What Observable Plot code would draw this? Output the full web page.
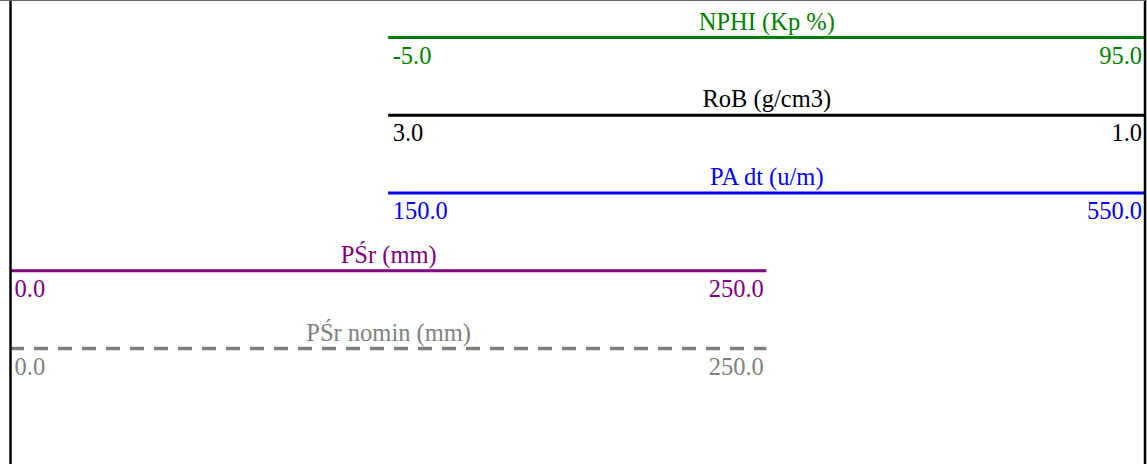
<!DOCTYPE html>
<html>
<head>
<meta charset="utf-8">
<script src="https://cdn.jsdelivr.net/npm/d3@7"></script>
<script src="https://cdn.jsdelivr.net/npm/@observablehq/plot@0.6"></script>
<style>
  html, body { margin: 0; padding: 0; background: #fff; overflow: hidden; }
  #chart { border-top: 1px solid #666; width: 1147px; height: 463px; }
  #chart svg { display: block; }
</style>
</head>
<body>
<div id="chart"></div>
<script>
// Curve header data (well-log style)
const curveNames = ["NPHI", "RoB", "PA dt", "PŚr", "PŚr nomin"];
const curveUnits = ["Kp %", "g/cm3", "u/m", "mm", "mm"];
const leftValues = [-5, 3, 150, 0, 0];
const rightValues = [95, 1, 550, 250, 250];
const trackStart = [1, 1, 1, 0, 0];   // track offsets (tracks span 2 units)
const curveColors = ["#008000", "#000000", "#0000ff", "#800080", "#808080"];
const dashedCurves = ["PŚr nomin"];
const trackBorders = [0, 3];

const rows = curveNames.map((name, i) => ({
  name,
  title: `${name} (${curveUnits[i]})`,
  row: i,
  x1: trackStart[i],
  x2: trackStart[i] + 2,
  lo: leftValues[i].toFixed(1),
  hi: rightValues[i].toFixed(1),
  dashed: dashedCurves.includes(name)
}));

const font = "'Liberation Serif', 'Times New Roman', serif";

const chart = Plot.plot({
  width: 1147,
  height: 463,
  margin: 0,
  style: { fontFamily: font, fontSize: "25px", background: "white" },
  x: { domain: [0, 3], range: [10, 1144.5], axis: null },
  y: { domain: [0, 4], range: [36, 347], axis: null },
  color: { domain: curveNames, range: curveColors },
  marks: [
    Plot.ruleY(rows.filter(d => !d.dashed), { y: "row", x1: "x1", x2: "x2", stroke: "name", strokeWidth: 3 }),
    Plot.ruleY(rows.filter(d => d.dashed), { y: "row", x1: "x1", x2: "x2", stroke: "name", strokeWidth: 3.5, strokeDasharray: "14,10" }),
    Plot.text(rows, { x: d => (d.x1 + d.x2) / 2, y: "row", text: "title", fill: "name", lineAnchor: "bottom", dy: -8, fontSize: 24.5 }),
    Plot.text(rows, { x: "x1", y: "row", text: "lo", fill: "name", textAnchor: "start", lineAnchor: "bottom", dx: 4, dy: 26, fontSize: 24.5 }),
    Plot.text(rows, { x: "x2", y: "row", text: "hi", fill: "name", textAnchor: "end", lineAnchor: "bottom", dx: -3, dy: 26, fontSize: 24.5 }),
    Plot.ruleX(trackBorders, { stroke: "black", strokeWidth: 2.5 })
  ]
});
document.getElementById("chart").appendChild(chart);
</script>
</body>
</html>
